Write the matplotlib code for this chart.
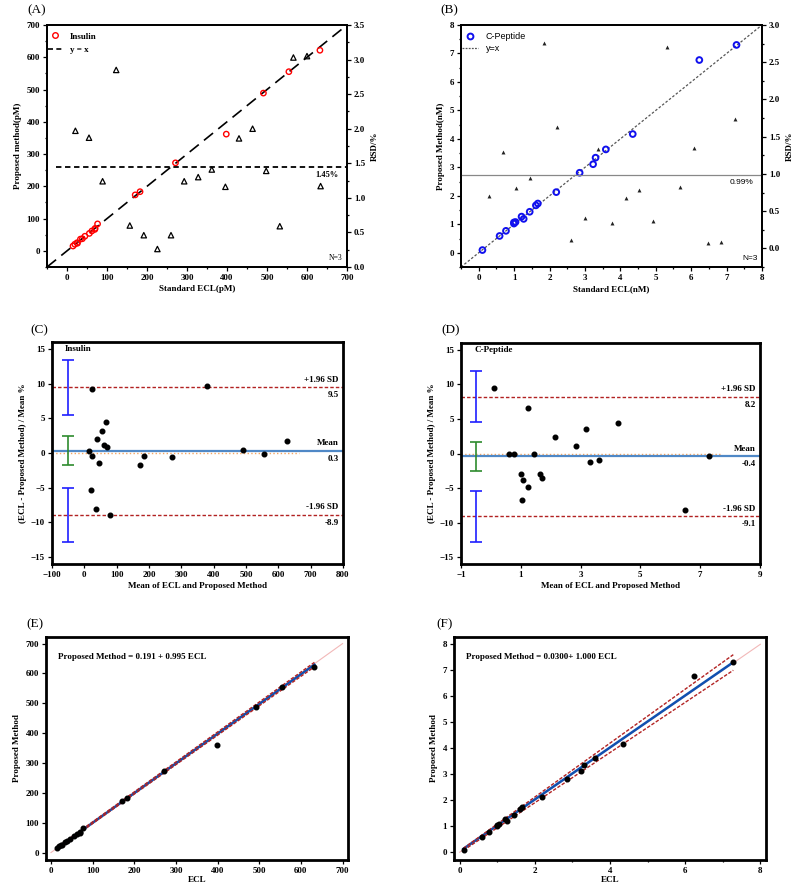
import numpy as np
import matplotlib.pyplot as plt
from matplotlib.lines import Line2D
from matplotlib.ticker import MultipleLocator

plt.rcParams['font.family'] = ['Liberation Serif', 'DejaVu Serif']
plt.rcParams['font.weight'] = 'bold'
plt.rcParams['axes.labelweight'] = 'bold'
plt.rcParams['font.size'] = 6.5

# insulin (pM): standard ECL vs proposed method
ins_ecl = [15.0, 19.5, 26.2, 25.0, 33.6, 38.4, 44.7, 55.9, 62.3, 69.5, 70.3, 76.4,
           170.5, 182.6, 271.2, 398.2, 491.0, 554.7, 632.3]
ins_prop = [15.0, 20.5, 23.8, 25.1, 36.4, 37.6, 45.3, 54.1, 61.7, 66.5, 69.7, 83.6,
            173.5, 183.4, 272.8, 361.8, 489.0, 555.3, 621.7]
ins_rsd_x = [21, 55, 89, 123, 157, 192, 226, 260, 293, 328, 362, 396, 430, 464,
             498, 532, 566, 600, 634]
ins_rsd = [1.97, 1.87, 1.24, 2.85, 0.60, 0.46, 0.26, 0.46, 1.24, 1.30, 1.41, 1.16,
           1.86, 2.00, 1.39, 0.59, 3.03, 3.05, 1.17]
ins_rsd_mean = 1.45

# C-peptide (nM)
cp_ecl = [0.105, 0.59, 0.77, 0.995, 1.04, 0.995, 1.27, 1.21, 1.44, 1.615, 1.67,
          2.19, 2.85, 3.23, 3.30, 3.59, 4.35, 6.23, 7.28]
cp_prop = [0.095, 0.59, 0.77, 1.025, 1.08, 1.065, 1.19, 1.27, 1.44, 1.665, 1.73,
           2.13, 2.81, 3.11, 3.34, 3.63, 4.17, 6.77, 7.30]
cp_rsd_x = [0.29, 0.68, 1.06, 1.45, 1.84, 2.22, 2.61, 3.00, 3.38, 3.77, 4.16, 4.54,
            4.93, 5.31, 5.69, 6.08, 6.47, 6.85, 7.24]
cp_rsd = [0.71, 1.29, 0.81, 0.95, 2.76, 1.63, 0.11, 0.41, 1.34, 0.34, 0.68, 0.79,
          0.37, 2.70, 0.83, 1.35, 0.07, 0.08, 1.74]
cp_rsd_mean = 0.99

# Bland-Altman, insulin
ba_ins_mean = [15, 20, 25, 25, 35, 38, 45, 55, 62, 68, 70, 80, 172, 183, 272, 380,
               490, 555, 627]
ba_ins_diff = [0.3, -5.3, 9.2, -0.4, -8.0, 2.0, -1.5, 3.1, 1.1, 4.5, 0.8, -8.9,
               -1.7, -0.4, -0.6, 9.6, 0.4, -0.1, 1.7]
ba_ins_lines = [9.5, 0.3, -8.9]          # +1.96 SD, mean, -1.96 SD
ba_ins_ci_lo = [5.5, -1.8, -12.8]
ba_ins_ci_hi = [13.4, 2.5, -5.0]

# Bland-Altman, C-peptide
ba_cp_mean = [0.10, 0.59, 0.77, 1.01, 1.06, 1.03, 1.23, 1.24, 1.44, 1.64, 1.70,
              2.16, 2.83, 3.17, 3.32, 3.61, 4.26, 6.50, 7.29]
ba_cp_diff = [9.5, 0.0, -0.1, -2.9, -3.8, -6.7, 6.6, -4.9, 0.0, -3.0, -3.5,
              2.4, 1.1, 3.5, -1.3, -0.9, 4.4, -8.2, -0.4]
ba_cp_lines = [8.2, -0.4, -9.1]
ba_cp_ci_lo = [4.5, -2.6, -12.8]
ba_cp_ci_hi = [11.9, 1.7, -5.4]

# regression fits
ins_fit = (0.191, 0.995)
ins_fit_x = [15.0, 632.3]
ins_ci_hi = [17.5, 637.0]
ins_ci_lo = [13.5, 622.0]
cp_fit = (0.0300, 1.000)
cp_fit_x = [0.10, 7.28]
cp_ci_hi = [0.15, 7.60]
cp_ci_lo = [0.07, 7.00]

W, H = 800, 889
fig = plt.figure(figsize=(W / 100, H / 100), dpi=100)


def rect(l, t, r, b):
    return [l / W, 1 - b / H, (r - l) / W, (b - t) / H]


def style(ax, lw=1.3):
    for s in ax.spines.values():
        s.set_linewidth(lw)
    ax.tick_params(which='both', direction='out', width=0.9, labelsize=6.5, pad=2)
    ax.tick_params(which='major', length=3)
    ax.tick_params(which='minor', length=1.6)


def panel_label(x, y, s):
    fig.text(x / W, 1 - y / H, s, fontsize=9.5, fontweight='normal', ha='left', va='center')


sans = {'family': ['Liberation Sans', 'DejaVu Sans'], 'weight': 'normal'}

# ---- (A) insulin method comparison + RSD
ax = fig.add_axes(rect(47, 25, 347, 267))
ax.axline((0, 0), slope=1, color='black', lw=1.2, ls=(0, (7, 4)))
ax.scatter(ins_ecl, ins_prop, s=15, facecolors='none', edgecolors='red', linewidths=1.0, zorder=3)
ax.set_xlim(-50, 700)
ax.set_ylim(-50, 700)
ax.xaxis.set_major_locator(MultipleLocator(100))
ax.xaxis.set_minor_locator(MultipleLocator(50))
ax.yaxis.set_major_locator(MultipleLocator(100))
ax.yaxis.set_minor_locator(MultipleLocator(50))
ax.set_xlabel('Standard ECL(pM)', labelpad=2)
ax.set_ylabel('Proposed method(pM)', labelpad=3)
style(ax)
ax2 = ax.twinx()
ax2.scatter(ins_rsd_x, ins_rsd, marker='^', s=15, facecolors='none', edgecolors='black', linewidths=0.9)
ax2.axhline(ins_rsd_mean, xmin=0.03, color='black', lw=1.3, ls=(0, (3, 2)))
ax2.text(0.97, ins_rsd_mean - 0.06, '1.45%', transform=ax2.get_yaxis_transform(), ha='right', va='top', fontsize=6)
ax2.text(0.985, 0.02, 'N=3', transform=ax2.transAxes, ha='right', va='bottom', fontsize=5.5, fontweight='normal')
ax2.set_ylim(0, 3.5)
ax2.yaxis.set_major_locator(MultipleLocator(0.5))
ax2.yaxis.set_minor_locator(MultipleLocator(0.25))
ax2.set_ylabel('RSD/%', labelpad=4)
style(ax2)
hA = [Line2D([], [], ls='none', marker='o', mfc='none', mec='red', mew=1.0, ms=4),
      Line2D([], [], color='black', lw=1.2, ls=(0, (3, 2)))]
ax.legend(hA, ['Insulin', 'y = x'], loc='upper left', frameon=False, fontsize=6.5,
          handlelength=1.6, borderaxespad=0.4, labelspacing=0.6, bbox_to_anchor=(-0.02, 1.0))
panel_label(27, 10, '(A)')

# ---- (B) C-peptide method comparison + RSD
bx = fig.add_axes(rect(461, 25, 762, 267))
bx.axline((0, 0), slope=1, color='#555555', lw=0.9, ls=(0, (2, 1.5)))
bx.scatter(cp_ecl, cp_prop, s=17, facecolors='none', edgecolors='#1010ee', linewidths=1.4, zorder=3)
bx.set_xlim(-0.5, 8)
bx.set_ylim(-0.5, 8)
bx.xaxis.set_major_locator(MultipleLocator(1))
bx.xaxis.set_minor_locator(MultipleLocator(0.5))
bx.yaxis.set_major_locator(MultipleLocator(1))
bx.yaxis.set_minor_locator(MultipleLocator(0.5))
bx.set_xlabel('Standard ECL(nM)', labelpad=2)
bx.set_ylabel('Proposed Method(nM)', labelpad=3)
style(bx)
bx2 = bx.twinx()
bx2.scatter(cp_rsd_x, cp_rsd, marker='^', s=8, color='#222222', linewidths=0)
bx2.axhline(cp_rsd_mean, color='#888888', lw=0.9)
bx2.text(0.97, cp_rsd_mean - 0.06, '0.99%', transform=bx2.get_yaxis_transform(), ha='right', va='top',
         fontsize=6, fontdict=sans)
bx2.text(0.985, 0.02, 'N=3', transform=bx2.transAxes, ha='right', va='bottom', fontsize=6, fontdict=sans)
bx2.set_ylim(-0.25, 3.0)
bx2.yaxis.set_major_locator(MultipleLocator(0.5))
bx2.yaxis.set_minor_locator(MultipleLocator(0.25))
bx2.set_ylabel('RSD/%', labelpad=4)
style(bx2)
hB = [Line2D([], [], ls='none', marker='o', mfc='none', mec='#1010ee', mew=1.4, ms=4.2),
      Line2D([], [], color='#555555', lw=0.9, ls=(0, (1.5, 1)))]
bx.legend(hB, ['C-Peptide', 'y=x'], loc='upper left', frameon=False,
          prop={'family': ['Liberation Sans', 'DejaVu Sans'], 'weight': 'normal', 'size': 6.5},
          handlelength=1.8, borderaxespad=0.4, labelspacing=0.3, bbox_to_anchor=(-0.02, 1.0))
panel_label(440, 10, '(B)')


# ---- Bland-Altman panels
def bland_altman(r, xm, yd, lines, ci_lo, ci_hi, xlim, xticks, ci_x, zero_end, name):
    a = fig.add_axes(r)
    a.axhline(0, xmax=(zero_end - xlim[0]) / (xlim[1] - xlim[0]), color='#f4a460', lw=1.0, ls=':')
    a.axhline(lines[1], color='#4f88c6', lw=1.6)
    for v in (lines[0], lines[2]):
        a.axhline(v, color='#b22222', lw=1.0, ls=(0, (2.5, 1.5)))
    colors = ['#1f1fff', '#2e8b2e', '#1f1fff']
    for lo, hi, c in zip(ci_lo, ci_hi, colors):
        a.errorbar([ci_x], [(lo + hi) / 2], yerr=[[(hi - lo) / 2], [(hi - lo) / 2]], color=c,
                   lw=1.2, capsize=4, capthick=1.2)
    a.scatter(xm, yd, s=11, color='black', zorder=4)
    tr = a.get_yaxis_transform()
    labels = ['+1.96 SD', 'Mean', '-1.96 SD']
    for v, lab in zip(lines, labels):
        a.text(0.985, v + 0.5, lab, transform=tr, ha='right', va='bottom', fontsize=6.5)
        a.text(0.985, v - 0.6, f'{v:.1f}', transform=tr, ha='right', va='top', fontsize=6.5)
    a.text(0.045, 0.985, name, transform=a.transAxes, ha='left', va='top', fontsize=6.5)
    a.set_xlim(*xlim)
    a.set_ylim(-16, 16)
    a.set_xticks(xticks)
    a.yaxis.set_major_locator(MultipleLocator(5))
    a.set_xlabel('Mean of ECL and Proposed Method', labelpad=2)
    a.set_ylabel('(ECL - Proposed Method) / Mean %', labelpad=3)
    style(a, lw=2.0)
    return a


bland_altman(rect(52, 342, 343, 564), ba_ins_mean, ba_ins_diff, ba_ins_lines, ba_ins_ci_lo, ba_ins_ci_hi,
             (-100, 800), np.arange(-100, 801, 100), -50, 665, 'Insulin')
panel_label(30, 330, '(C)')
bland_altman(rect(461, 343, 760, 564), ba_cp_mean, ba_cp_diff, ba_cp_lines, ba_cp_ci_lo, ba_cp_ci_hi,
             (-1, 9), np.arange(-1, 10, 2), -0.5, 7.7, 'C-Peptide')
panel_label(441, 330, '(D)')


# ---- regression panels
def regression(r, xs, ys, fit, fit_x, ci_hi, ci_lo, ident, lims, major, minor, eq):
    a = fig.add_axes(r)
    a.plot(ident, ident, color='#f2b8b8', lw=0.8)
    fx = np.array(fit_x)
    a.plot(fx, fit[0] + fit[1] * fx, color='#1050b0', lw=1.8, zorder=3)
    a.plot(fx, ci_hi, color='#b22222', lw=1.0, ls=(0, (2.5, 1.2)), zorder=3)
    a.plot(fx, ci_lo, color='#b22222', lw=1.0, ls=(0, (2.5, 1.2)), zorder=3)
    a.scatter(xs, ys, s=11, color='black', zorder=4)
    a.text(0.04, 0.93, eq, transform=a.transAxes, ha='left', va='top', fontsize=6.5)
    a.set_xlim(*lims[0])
    a.set_ylim(*lims[1])
    a.xaxis.set_major_locator(MultipleLocator(major[0]))
    a.yaxis.set_major_locator(MultipleLocator(major[1]))
    if minor:
        a.xaxis.set_minor_locator(MultipleLocator(minor))
    a.set_xlabel('ECL', labelpad=1)
    a.set_ylabel('Proposed Method', labelpad=3)
    style(a, lw=2.0)
    return a


regression(rect(46, 637, 348, 860), ins_ecl, ins_prop, ins_fit, ins_fit_x, ins_ci_hi, ins_ci_lo,
           [0, 700], ((-12, 713), (-25, 722)), (100, 100), None,
           'Proposed Method = 0.191 + 0.995 ECL')
panel_label(26, 624, '(E)')
regression(rect(454, 637, 766, 860), cp_ecl, cp_prop, cp_fit, cp_fit_x, cp_ci_hi, cp_ci_lo,
           [0, 8], ((-0.15, 8.15), (-0.3, 8.28)), (2, 1), 1,
           'Proposed Method = 0.0300+ 1.000 ECL')
panel_label(436, 624, '(F)')

fig.savefig('out.png', dpi=100)
